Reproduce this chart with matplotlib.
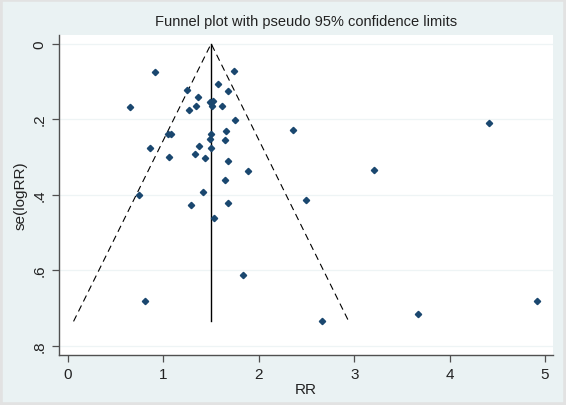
import numpy as np
import matplotlib.pyplot as plt
from matplotlib.patches import Rectangle

plt.rcParams['font.family'] = ['Liberation Sans', 'DejaVu Sans']

# study estimates
rr = [0.913, 1.739, 1.572, 1.246, 1.678, 1.364, 0.648, 1.485, 1.515, 1.345,
      1.511, 1.614, 1.269, 1.754, 2.36, 4.413, 1.652, 1.496, 1.049, 1.080,
      1.485, 1.640, 1.375, 0.856, 1.496, 1.061, 1.330, 1.439, 1.678, 1.886,
      3.212, 1.640, 1.413, 0.739, 2.492, 1.292, 1.674, 1.534, 1.837, 0.811,
      4.92, 3.667, 2.663]
se = [0.075, 0.073, 0.107, 0.124, 0.126, 0.142, 0.169, 0.154, 0.152, 0.166,
      0.166, 0.164, 0.176, 0.201, 0.229, 0.210, 0.231, 0.240, 0.240, 0.239,
      0.253, 0.255, 0.271, 0.277, 0.277, 0.301, 0.293, 0.303, 0.310, 0.337,
      0.334, 0.361, 0.392, 0.400, 0.413, 0.428, 0.423, 0.461, 0.614, 0.683,
      0.682, 0.717, 0.736]

pooled = 1.5
se_max = max(se)

xticks = [0, 1, 2, 3, 4, 5]
yticks = [0, 0.2, 0.4, 0.6, 0.8]
ytick_labels = ['0', '.2', '.4', '.6', '.8']

bg = '#eaf2f3'
fig = plt.figure(figsize=(5.66, 4.06), dpi=100, facecolor=bg)
fig.patches.append(Rectangle((0, 0), 1, 1, transform=fig.transFigure,
                             fill=False, edgecolor='#e2e2e2', linewidth=4))

ax = fig.add_axes([0.1034, 0.1232, 0.8742, 0.789])
ax.set_facecolor('white')

# funnel limits
ax.plot([pooled - 1.96 * se_max, pooled, pooled + 1.96 * se_max],
        [se_max, 0, se_max], color='black', linestyle=(0, (6, 4)), linewidth=0.8)
ax.plot([pooled, pooled], [0, se_max], color='black', linewidth=1.0)

ax.plot(rr, se, linestyle='none', marker='D', markersize=3.2, color='#1a476f')

ax.set_xlim(-0.1, 5.087)
ax.set_ylim(0.825, -0.024)
ax.set_xticks(xticks)
ax.set_xticklabels([str(t) for t in xticks])
ax.set_yticks(yticks)
ax.set_yticklabels(ytick_labels, rotation=90, va='center')

ax.grid(axis='y', color='#eef4f5', linewidth=0.9)
ax.set_axisbelow(True)
for side in ['top', 'right']:
    ax.spines[side].set_visible(False)
for side in ['left', 'bottom']:
    ax.spines[side].set_color('#505050')
    ax.spines[side].set_linewidth(1.0)
ax.tick_params(axis='both', colors='#505050', labelcolor='#222222',
               labelsize=11, length=5, width=0.9)

ax.set_xlabel('RR', fontsize=11, color='#222222', labelpad=1)
ax.set_ylabel('se(logRR)', fontsize=11, color='#222222', labelpad=4)
ax.set_title('Funnel plot with pseudo 95% confidence limits', fontsize=10.5,
             color='#222222', pad=7)

fig.savefig('out.png', dpi=100, facecolor=bg)
